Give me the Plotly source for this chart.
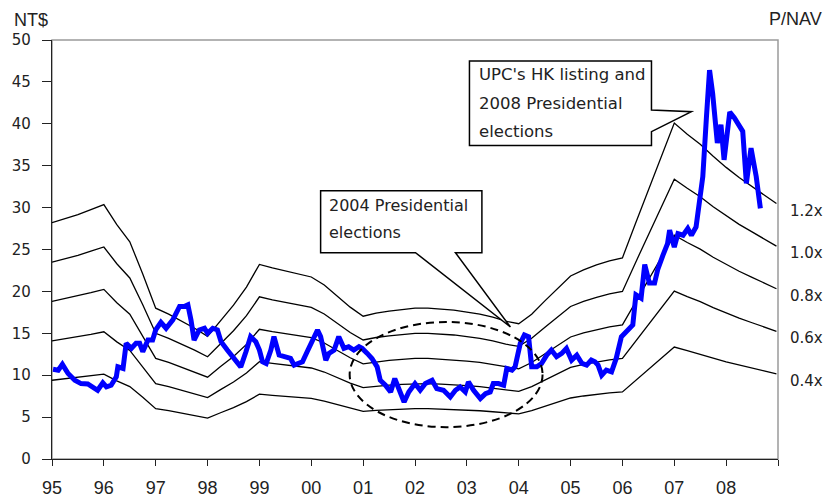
import plotly.graph_objects as go

# ---------------- data ----------------
nav_years = [1995.00, 1995.25, 1995.50, 1995.75, 1996.00, 1996.25, 1996.50, 1996.75,
             1997.00, 1997.25, 1997.50, 1997.75, 1998.00, 1998.25, 1998.50, 1998.75,
             1999.00, 1999.25, 1999.50, 1999.75, 2000.00, 2000.25, 2000.50, 2000.75,
             2001.00, 2001.25, 2001.50, 2001.75, 2002.00, 2002.25, 2002.50, 2002.75,
             2003.00, 2003.25, 2003.50, 2003.75, 2004.00, 2004.25, 2004.50, 2004.75,
             2005.00, 2005.25, 2005.50, 2005.75, 2006.00, 2006.25, 2006.50, 2006.75,
             2007.00, 2007.25, 2007.50, 2007.75, 2008.00, 2008.25, 2008.50, 2008.75,
             2008.97]
nav_values = [23.5, 23.9, 24.3, 24.8, 25.3, 23.3, 21.6, 18.4,
              15.0, 14.4, 13.7, 13.0, 12.2, 13.8, 15.3, 17.1,
              19.35, 19.0, 18.7, 18.4, 18.1, 17.3, 16.2, 15.1,
              14.2, 14.5, 14.7, 14.85, 15.0, 15.0, 14.9, 14.8,
              14.6, 14.4, 14.1, 13.7, 13.45, 14.4, 15.7, 17.0,
              18.2, 18.8, 19.3, 19.7, 20.0, 23.4, 26.8, 30.1,
              33.4, 32.3, 31.3, 30.1, 29.0, 28.0, 27.1, 26.2,
              25.4]
multiples = [1.2, 1.0, 0.8, 0.6, 0.4]
multiple_labels = ["1.2x", "1.0x", "0.8x", "0.6x", "0.4x"]

price_years = [1995.02, 1995.12, 1995.20, 1995.31, 1995.44, 1995.56, 1995.69, 1995.79, 1995.88, 1995.98,
               1996.05, 1996.14, 1996.24, 1996.27, 1996.37, 1996.43, 1996.53, 1996.62, 1996.69, 1996.75,
               1996.85, 1996.94, 1997.00, 1997.10, 1997.20, 1997.33, 1997.46, 1997.55, 1997.62, 1997.68,
               1997.74, 1997.84, 1997.94, 1998.00, 1998.10, 1998.19, 1998.26, 1998.38, 1998.55, 1998.64,
               1998.74, 1998.83, 1998.93, 1999.00, 1999.06, 1999.13, 1999.22, 1999.28, 1999.38, 1999.51,
               1999.60, 1999.67, 1999.73, 1999.83, 1999.92, 2000.02, 2000.12, 2000.18, 2000.28, 2000.34,
               2000.44, 2000.53, 2000.63, 2000.72, 2000.82, 2000.92, 2000.98, 2001.08, 2001.17, 2001.27,
               2001.33, 2001.43, 2001.53, 2001.61, 2001.69, 2001.79, 2001.88, 2002.00, 2002.10, 2002.20,
               2002.33, 2002.42, 2002.55, 2002.68, 2002.78, 2002.87, 2002.97, 2003.03, 2003.13, 2003.26,
               2003.36, 2003.45, 2003.51, 2003.61, 2003.71, 2003.77, 2003.87, 2003.93, 2004.03, 2004.11,
               2004.19, 2004.25, 2004.35, 2004.44, 2004.54, 2004.63, 2004.73, 2004.83, 2004.92, 2005.02,
               2005.12, 2005.22, 2005.31, 2005.40, 2005.47, 2005.53, 2005.60, 2005.69, 2005.79, 2005.88,
               2005.98, 2006.10, 2006.20, 2006.26, 2006.36, 2006.43, 2006.52, 2006.62, 2006.68, 2006.78,
               2006.87, 2006.91, 2007.00, 2007.07, 2007.17, 2007.26, 2007.33, 2007.42, 2007.49, 2007.55,
               2007.62, 2007.68, 2007.74, 2007.83, 2007.90, 2007.96, 2008.07, 2008.16, 2008.32, 2008.39,
               2008.48, 2008.58, 2008.66]
price_values = [10.7, 10.6, 11.3, 10.2, 9.4, 9.0, 8.95, 8.6, 8.2, 9.1,
                8.6, 8.8, 9.8, 11.0, 10.8, 13.8, 13.2, 13.8, 13.8, 12.8,
                14.2, 14.2, 15.4, 16.3, 15.6, 16.6, 18.2, 18.2, 18.4, 16.6,
                14.2, 15.4, 15.6, 15.0, 15.6, 15.4, 14.0, 13.0, 11.8, 11.0,
                12.8, 14.6, 14.0, 13.0, 11.6, 11.4, 13.0, 14.6, 12.4, 12.2,
                12.0, 11.2, 11.4, 11.6, 12.8, 14.2, 15.4, 14.6, 11.8, 12.6,
                13.0, 14.6, 13.2, 13.4, 13.0, 13.4, 13.2, 12.6, 12.0, 11.0,
                9.4, 8.8, 8.0, 9.6, 8.2, 6.8, 8.0, 9.0, 8.2, 9.0,
                9.4, 8.4, 8.2, 7.4, 8.2, 8.6, 8.0, 9.2, 8.2, 7.2,
                7.8, 8.0, 9.0, 9.0, 8.8, 10.8, 10.6, 11.0, 13.8, 14.8,
                14.6, 11.0, 11.0, 11.4, 12.4, 13.0, 12.2, 12.6, 13.2, 11.8,
                12.4, 11.4, 11.2, 11.8, 11.6, 11.2, 10.0, 10.6, 10.4, 12.0,
                14.6, 15.4, 16.0, 19.6, 19.2, 23.2, 21.0, 21.0, 22.6, 24.3,
                25.7, 27.3, 25.3, 26.9, 26.7, 27.5, 26.7, 27.7, 30.5, 33.7,
                40.8, 46.4, 43.6, 37.7, 39.9, 35.7, 41.4, 40.7, 39.1, 32.9,
                37.1, 33.7, 29.9]

tick_years = list(range(1995, 2010))
tick_labels = ["95", "96", "97", "98", "99", "00", "01", "02", "03", "04", "05", "06", "07", "08", ""]

callout_2004 = ["2004 Presidential", "elections"]
callout_upc = ["UPC's HK listing and", "2008 Presidential", "elections"]

# ---------------- figure ----------------
fig = go.Figure()

for m in multiples:
    fig.add_trace(go.Scatter(
        x=nav_years, y=[m * v for v in nav_values], mode="lines",
        line=dict(color="black", width=1.3), showlegend=False, hoverinfo="skip"))

fig.add_trace(go.Scatter(
    x=price_years, y=price_values, mode="lines",
    line=dict(color="#0000FF", width=5), showlegend=False))

TXT = "#222222"
shapes = []
# frame (top / right in grey)
shapes.append(dict(type="rect", xref="paper", yref="paper", x0=0, x1=1, y0=0, y1=1,
                   line=dict(color="#9a9a9a", width=1.5), layer="below"))
# dashed ellipse
shapes.append(dict(type="circle", xref="x", yref="y", x0=2000.74, x1=2004.46, y0=3.8, y1=16.35,
                   line=dict(color="black", width=2, dash="8px,5px")))


def path(pts):
    return "M " + " L ".join(f"{a},{b}" for a, b in pts) + " Z"


# 2004 callout
shapes.append(dict(type="path", xref="x", yref="y", fillcolor="white",
                   line=dict(color="black", width=1.5),
                   path=path([(2000.18, 32.0), (2003.29, 32.0), (2003.29, 24.62), (2002.78, 24.62),
                              (2003.84, 15.75), (2002.01, 24.62), (2000.18, 24.62)])))
# UPC callout
shapes.append(dict(type="path", xref="x", yref="y", fillcolor="white",
                   line=dict(color="black", width=1.5),
                   path=path([(2003.05, 47.5), (2006.56, 47.5), (2006.56, 41.65), (2007.33, 41.44),
                              (2006.56, 39.06), (2006.56, 37.4), (2003.05, 37.4)])))

annotations = []
for txt, yv in zip(callout_2004, [30.3, 27.0]):
    annotations.append(dict(x=2000.31, y=yv, xref="x", yref="y", text=txt, showarrow=False,
                            xanchor="left", yanchor="middle",
                            font=dict(family="DejaVu Sans", size=16, color=TXT)))
for txt, yv in zip(callout_upc, [45.9, 42.4, 39.1]):
    annotations.append(dict(x=2003.19, y=yv, xref="x", yref="y", text=txt, showarrow=False,
                            xanchor="left", yanchor="middle",
                            font=dict(family="DejaVu Sans", size=16.5, color=TXT)))

for m, lab in zip(multiples, multiple_labels):
    annotations.append(dict(x=1.0138, y=m * nav_values[-1], xref="paper", yref="y", text=lab,
                            showarrow=False, xanchor="left", yanchor="middle", yshift=-7,
                            font=dict(family="DejaVu Sans", size=15, color=TXT)))

annotations.append(dict(x=-0.055, y=1.048, xref="paper", yref="paper", text="NT$", showarrow=False,
                        xanchor="left", yanchor="middle",
                        font=dict(family="Liberation Sans", size=18, color=TXT)))
annotations.append(dict(x=0.985, y=1.051, xref="paper", yref="paper", text="P/NAV", showarrow=False,
                        xanchor="left", yanchor="middle",
                        font=dict(family="Liberation Sans", size=18, color=TXT)))

fig.update_layout(
    width=827, height=498,
    margin=dict(l=52, r=49, t=40, b=39),
    paper_bgcolor="white", plot_bgcolor="white",
    shapes=shapes, annotations=annotations,
    showlegend=False,
    xaxis=dict(range=[1995, 2009], tickmode="array", tickvals=tick_years, ticktext=tick_labels,
               automargin=False,
               showgrid=False, zeroline=False, showline=True, linecolor="#222222", linewidth=1.3,
               ticks="outside", ticklen=6, tickwidth=1.3, tickcolor="#222222",
               ticklabelstandoff=6,
               tickfont=dict(family="Liberation Sans Narrow, Liberation Sans", size=18, color=TXT)),
    yaxis=dict(range=[0, 50], dtick=5, tick0=0, automargin=False,
               showgrid=False, zeroline=False, showline=True, linecolor="#222222", linewidth=1.3,
               ticks="outside", ticklen=9, tickwidth=1.3, tickcolor="#222222",
               ticklabelstandoff=8,
               tickfont=dict(family="DejaVu Sans", size=15, color=TXT)),
)

fig.write_html("out.html")
